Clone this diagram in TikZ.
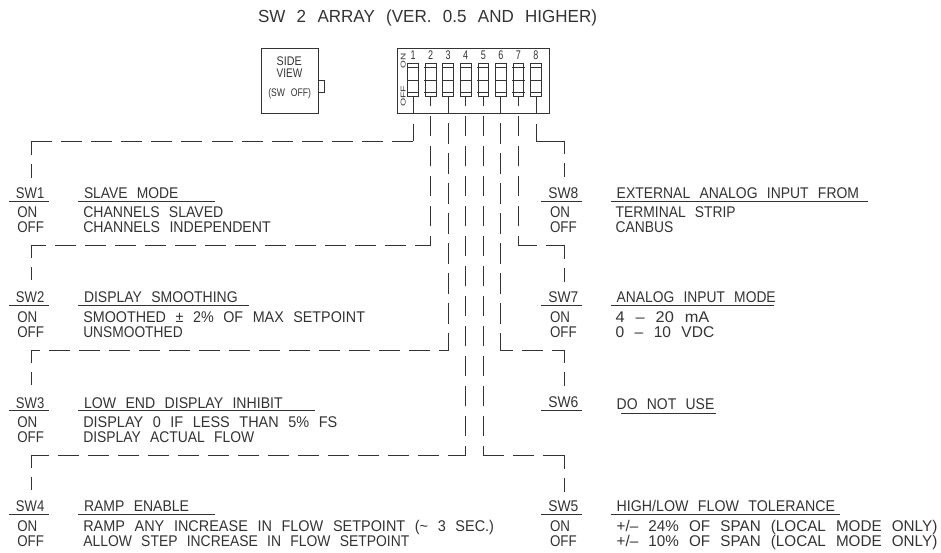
\documentclass[tikz,border=0pt]{standalone}
\usepackage{graphicx}
\usepackage{fontspec}
\setmainfont[WordSpace=2.4]{Liberation Sans}
\usetikzlibrary{calc}
\definecolor{ink}{gray}{0.2}
\tikzset{
  wire/.style={draw=ink,line width=0.85pt,line cap=rect},
  thin box/.style={draw=ink,line width=0.85pt,rectangle,inner sep=0pt},
  lbl/.style={inner sep=0pt,outer sep=0pt,text=ink,font=\fontsize{15.5}{15.5}\selectfont},
  uline/.style={draw=ink,line width=0.85pt},
}
\newcommand\lab[6][lbl]{%
  \pgfmathsetmacro\labw{#4-#3}%
  \node[#1,anchor=base west] (#2) at (#3,#5) {\resizebox{\labw pt}{\height}{#6}};}
\newcommand\dseg[2]{%
  \pgfpointdiff{\pgfpointanchor{#1}{center}}{\pgfpointanchor{#2}{center}}%
  \pgfgetlastxy{\segdx}{\segdy}%
  \pgfmathsetmacro\seglen{veclen(\segdx,\segdy)}%
  \pgfmathsetmacro\segk{max(0,ceil((\seglen-54)/30))}%
  \pgfmathsetmacro\sege{(\seglen-10-30*\segk)/2}%
  \ifdim\seglen pt<30pt
    \draw[wire] (#1) -- (#2);
  \else\ifdim\sege pt>20pt
    \pgfmathsetmacro\segd{(\seglen-(\segk+1)*10)/(\segk+2)}%
    \draw[wire,dash pattern=on \segd pt off 10pt] (#1) -- (#2);
  \else
    \pgfmathsetmacro\segp{20-\sege}%
    \draw[wire,dash pattern=on 20pt off 10pt,dash phase=\segp pt] (#1) -- (#2);
  \fi\fi}
\begin{document}
\begin{tikzpicture}[x=1pt,y=-1pt]
\useasboundingbox (0,0) rectangle (941,552);

% title
\lab[lbl,font=\fontsize{17.5}{17.5}\selectfont]{title}{258}{597}{22}{SW 2 ARRAY (VER. 0.5 AND HIGHER)}

% side view
\node[thin box,minimum width=57pt,minimum height=65pt] (side) at (289.5,80.5) {};
\coordinate (tabA) at (318,80);
\coordinate (tabB) at (324.5,80);
\coordinate (tabC) at (324.5,92);
\coordinate (tabD) at (318,92);
\draw[wire] (tabA) -- (tabB) -- (tabC) -- (tabD);
\lab[lbl,font=\fontsize{12.5}{12.5}\selectfont]{sideA}{276.7}{301.7}{65}{SIDE}
\lab[lbl,font=\fontsize{12.5}{12.5}\selectfont]{sideB}{276.7}{302.3}{77.7}{VIEW}
\lab[lbl,font=\fontsize{11}{11}\selectfont]{sideC}{268.3}{311}{96.7}{(SW OFF)}

% DIP switch body
\node[thin box,minimum width=151.5pt,minimum height=65pt] (dip) at (473.25,80.5) {};
\node[lbl,font=\fontsize{7}{7}\selectfont,anchor=base west,rotate=90] (dipon) at (405.7,68.5) {\resizebox{15pt}{\height}{ON}};
\node[lbl,font=\fontsize{7}{7}\selectfont,anchor=base west,rotate=90] (dipoff) at (405.7,106.7) {\resizebox{21pt}{\height}{OFF}};
\foreach \i in {1,...,8}{
  \pgfmathsetmacro\sx{413+17.57*(\i-1)}
  \node[thin box,minimum width=10.7pt,minimum height=33.4pt] (s\i) at (\sx,80) {};
  \draw[wire] ($(s\i.north west)+(0,5)$) -- ($(s\i.north east)+(0,5)$);
  \draw[wire] (s\i.west) -- (s\i.east);
  \draw[wire] ($(s\i.south west)+(0,-5)$) -- ($(s\i.south east)+(0,-5)$);
  \node[lbl,font=\fontsize{12.5}{12.5}\selectfont,anchor=base] (n\i) at (\sx,59.3) {\scalebox{.72}[1]{\i}};
}

% row labels and captions, left column
\lab{sw1}{16}{44.3}{198}{SW1}
\lab{t1}{84}{178.3}{198}{SLAVE MODE}
\lab{on1}{17.3}{37.3}{217.3}{ON}
\lab{off1}{17.3}{44}{232.7}{OFF}
\lab{a1}{83.3}{223.3}{217.3}{CHANNELS SLAVED}
\lab{b1}{83.3}{270.7}{232.7}{CHANNELS INDEPENDENT}
\draw[uline] (9.3,201) -- (49,201);
\draw[uline] (78.3,201) -- (215,201);

\lab{sw2}{16}{44.3}{302.3}{SW2}
\lab{t2}{84}{237.7}{302.3}{DISPLAY SMOOTHING}
\lab{on2}{17.3}{37.3}{322.7}{ON}
\lab{off2}{17.3}{44}{337.7}{OFF}
\lab{a2}{83.3}{365}{322.7}{SMOOTHED ± 2\% OF MAX SETPOINT}
\lab{b2}{83.3}{182.7}{337.7}{UNSMOOTHED}
\draw[uline] (9.3,305.7) -- (49,305.7);
\draw[uline] (78.3,305.7) -- (249,305.7);

\lab{sw3}{16}{44.3}{408.3}{SW3}
\lab{t3}{84}{282.7}{408.3}{LOW END DISPLAY INHIBIT}
\lab{on3}{17.3}{37.3}{427.3}{ON}
\lab{off3}{17.3}{44}{442.7}{OFF}
\lab{a3}{83.3}{337.3}{427.3}{DISPLAY 0 IF LESS THAN 5\% FS}
\lab{b3}{83.3}{254.3}{442.7}{DISPLAY ACTUAL FLOW}
\draw[uline] (9.3,410.3) -- (49,410.3);
\draw[uline] (78.3,410.3) -- (315,410.3);

\lab{sw4}{16}{44.3}{511.7}{SW4}
\lab{t4}{84}{189}{511.7}{RAMP ENABLE}
\lab{on4}{17.3}{37.3}{531.7}{ON}
\lab{off4}{17.3}{44}{546.7}{OFF}
\lab{a4}{83.3}{494}{531.7}{RAMP ANY INCREASE IN FLOW SETPOINT (\textasciitilde{} 3 SEC.)}
\lab{b4}{83.3}{409.3}{546.7}{ALLOW STEP INCREASE IN FLOW SETPOINT}
\draw[uline] (9.3,514.3) -- (49,514.3);
\draw[uline] (78.3,514.3) -- (215,514.3);

% right column
\lab{sw8}{548.3}{578.3}{198}{SW8}
\lab{t8}{616.7}{859}{198}{EXTERNAL ANALOG INPUT FROM}
\lab{on8}{550}{570}{217.3}{ON}
\lab{off8}{550}{576.7}{232.7}{OFF}
\lab{a8}{615.7}{735.7}{217.3}{TERMINAL STRIP}
\lab{b8}{615.7}{673.3}{232.7}{CANBUS}
\draw[uline] (541,201) -- (581.7,201);
\draw[uline] (610.7,201) -- (868.3,201);

\lab{sw7}{548.3}{578.3}{302.3}{SW7}
\lab{t7}{616.7}{775.7}{302.3}{ANALOG INPUT MODE}
\lab{on7}{550}{570}{322.7}{ON}
\lab{off7}{550}{576.7}{337.7}{OFF}
\lab{a7}{615.7}{709.3}{322.7}{4 – 20 mA}
\lab{b7}{615.7}{714.3}{337.7}{0 – 10 VDC}
\draw[uline] (541,305.7) -- (581.7,305.7);
\draw[uline,line width=1.4pt] (610.7,305.7) -- (774,305.7);

\lab{sw6}{548.3}{578.3}{407.7}{SW6}
\lab{t6}{616.7}{714.3}{409}{DO NOT USE}
\draw[uline] (541,410.3) -- (581.7,410.3);
\draw[uline] (621,413) -- (715.7,413);

\lab{sw5}{548.3}{578.3}{511.7}{SW5}
\lab{t5}{616.7}{835}{511.7}{HIGH/LOW FLOW TOLERANCE}
\lab{on5}{550}{570}{531.7}{ON}
\lab{off5}{550}{576.7}{546.7}{OFF}
\lab{a5}{616.7}{937.3}{531.7}{+/– 24\% OF SPAN (LOCAL MODE ONLY)}
\lab{b5}{616.7}{937.3}{546.7}{+/– 10\% OF SPAN (LOCAL MODE ONLY)}
\draw[uline] (541,514.3) -- (581.7,514.3);
\draw[uline] (610.7,514.3) -- (840,514.3);

% connector corners and free ends
\coordinate (c1) at (s1.south |- 0,141);   \coordinate (d1) at (31,141);  \coordinate (e1) at (31,178);
\coordinate (c2) at (s2.south |- 0,245);   \coordinate (d2) at (31,245);  \coordinate (e2) at (31,280);
\coordinate (c3) at (s3.south |- 0,350);   \coordinate (d3) at (31,350);  \coordinate (e3) at (31,385);
\coordinate (c4) at (s4.south |- 0,455);   \coordinate (d4) at (31,455);  \coordinate (e4) at (31,490);
\coordinate (c5) at (s5.south |- 0,455);   \coordinate (d5) at (564,455); \coordinate (e5) at (564,491.6);
\coordinate (c6) at (s6.south |- 0,350);   \coordinate (d6) at (564,350); \coordinate (e6) at (564,385.7);
\coordinate (c7) at (s7.south |- 0,245);   \coordinate (d7) at (564,245); \coordinate (e7) at (564,281.7);
\coordinate (c8) at (s8.south |- 0,141);   \coordinate (d8) at (564,141); \coordinate (e8) at (564,176.7);

\foreach \i in {1,...,8}{
  \coordinate (o\i) at (s\i.south);
  \dseg{o\i}{c\i}
  \dseg{c\i}{d\i}
  \dseg{d\i}{e\i}
}
\end{tikzpicture}
\end{document}
